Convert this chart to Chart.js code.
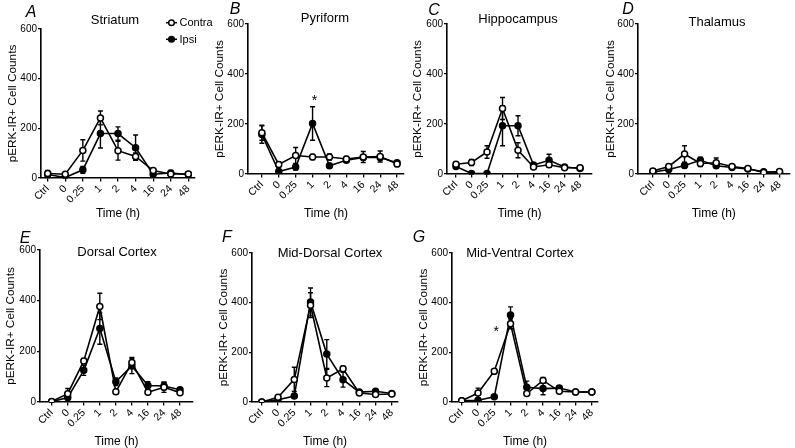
<!DOCTYPE html>
<html>
<head>
<meta charset="utf-8">
<script src="https://cdn.jsdelivr.net/npm/chart.js@4"></script>
<style>
  html, body { margin: 0; padding: 0; background: #fff; }
  #wrap { position: relative; width: 795px; height: 448px; overflow: hidden; }
  canvas { position: absolute; }
</style>
</head>
<body>
<div id="wrap"></div>
<script>
const timeLabels = ['Ctrl', '0', '0.25', '1', '2', '4', '16', '24', '48'];
const panelLetters = ['A', 'B', 'C', 'D', 'E', 'F', 'G'];
const regionNames = ['Striatum', 'Pyriform', 'Hippocampus', 'Thalamus', 'Dorsal Cortex', 'Mid-Dorsal Cortex', 'Mid-Ventral Cortex'];
const seriesNames = ['Contra', 'Ipsi'];

// mean pERK-IR+ counts, one row per region (A..G)
const contraMeans = [
  [18, 15, 111, 242, 110, 87, 30, 16, 16],
  [165, 38, 74, 68, 68, 60, 68, 70, 40],
  [39, 46, 88, 262, 95, 28, 37, 25, 25],
  [12, 30, 80, 42, 45, 30, 22, 6, 10],
  [2, 33, 162, 377, 40, 156, 38, 58, 37],
  [0, 19, 91, 390, 97, 134, 36, 30, 32],
  [5, 36, 124, 315, 34, 87, 43, 40, 40]
];
const contraSem = [
  [12, 8, 43, 28, 38, 14, 8, 6, 6],
  [30, 10, 32, 10, 12, 10, 22, 22, 10],
  [8, 12, 25, 44, 30, 6, 10, 6, 6],
  [8, 8, 33, 12, 19, 8, 6, 4, 4],
  [3, 20, 10, 52, 10, 20, 8, 20, 8],
  [2, 5, 49, 50, 35, 10, 6, 6, 5],
  [4, 20, 10, 20, 6, 12, 6, 5, 5]
];
const ipsiMeans = [
  [14, 2, 33, 179, 179, 122, 15, 20, 14],
  [158, 10, 28, 202, 33, 55, 66, 66, 45],
  [30, 2, 2, 193, 193, 36, 55, 28, 22],
  [7, 18, 34, 55, 33, 26, 20, 9, 7],
  [1, 18, 125, 290, 80, 142, 65, 63, 48],
  [0, 9, 24, 403, 193, 90, 40, 43, 34],
  [5, 7, 21, 350, 59, 54, 56, 40, 40]
];
const ipsiSem = [
  [12, 5, 14, 58, 27, 51, 8, 10, 8],
  [35, 8, 12, 67, 8, 8, 10, 10, 8],
  [6, 3, 3, 80, 40, 6, 24, 6, 6],
  [5, 6, 10, 12, 8, 6, 5, 4, 4],
  [2, 10, 20, 62, 15, 30, 15, 15, 8],
  [2, 4, 8, 56, 58, 30, 6, 6, 5],
  [4, 4, 5, 33, 25, 25, 8, 5, 5]
];
// significance marks: [region, time index, count level]
const asterisks = [[1, 3, 308], [6, 2, 297]];

// page geometry of each panel (axis x, plot top/bottom, axis end, x range)
const layout = [
  { ax: 41,  top: 29,  bottom: 178, right: 195, xmin: -0.38, xmax: 8.38, ytOff: 28, padR: 25, letter: [31, 13],  title: [115, 20] },
  { ax: 248, top: 24,  bottom: 174, right: 404, xmin: -0.82, xmax: 8.41, ytOff: 28, padR: 12, letter: [235, 10], title: [325, 18] },
  { ax: 447, top: 24,  bottom: 174, right: 592, xmin: -0.58, xmax: 8.77, ytOff: 29, padR: 12, letter: [434, 11], title: [518, 19] },
  { ax: 638, top: 24,  bottom: 174, right: 790, xmin: -0.94, xmax: 8.63, ytOff: 27, padR: 5,  letter: [628, 10], title: [717, 22] },
  { ax: 40,  top: 250, bottom: 402, right: 193, xmin: -0.73, xmax: 8.81, ytOff: 29, padR: 12, letter: [25, 239], title: [117, 252] },
  { ax: 252, top: 253, bottom: 402, right: 398, xmin: -0.6,  xmax: 8.38, ytOff: 28, padR: 12, letter: [227, 238], title: [330, 253] },
  { ax: 452, top: 253, bottom: 402, right: 598, xmin: -0.6,  xmax: 8.38, ytOff: 28, padR: 12, letter: [419, 238], title: [520, 253] }
];
const rowTop = [0, 225];
const rowBottom = [225, 455];

Chart.defaults.font.family = "'Liberation Sans', Arial, Helvetica, sans-serif";
Chart.defaults.color = '#000';

const errorBars = {
  id: 'errorBars',
  beforeDatasetsDraw(chart) {
    const ctx = chart.ctx, y = chart.scales.y, area = chart.chartArea;
    ctx.save();
    ctx.strokeStyle = '#000';
    ctx.lineWidth = 1.4;
    chart.data.datasets.forEach((ds, d) => {
      chart.getDatasetMeta(d).data.forEach((pt, i) => {
        const v = ds.data[i].y, e = ds.errors[i];
        const yTop = y.getPixelForValue(v + e);
        const yBot = Math.min(y.getPixelForValue(v - e), area.bottom);
        ctx.beginPath();
        ctx.moveTo(pt.x, yTop); ctx.lineTo(pt.x, yBot);
        ctx.moveTo(pt.x - 2.5, yTop); ctx.lineTo(pt.x + 2.5, yTop);
        ctx.moveTo(pt.x - 2.5, yBot); ctx.lineTo(pt.x + 2.5, yBot);
        ctx.stroke();
      });
    });
    ctx.restore();
  }
};

function decorations(p, cx, cy) {
  const L = layout[p];
  return {
    id: 'decor' + p,
    afterDraw(chart) {
      const ctx = chart.ctx;
      ctx.save();
      ctx.fillStyle = '#000';
      ctx.textBaseline = 'middle';
      ctx.textAlign = 'center';
      ctx.font = "italic 16px 'Liberation Sans', Arial, sans-serif";
      ctx.fillText(panelLetters[p], L.letter[0] - cx, L.letter[1] - cy);
      ctx.font = "13px 'Liberation Sans', Arial, sans-serif";
      ctx.fillText(regionNames[p], L.title[0] - cx, L.title[1] - cy);

      // significance asterisks
      ctx.font = "14px 'Liberation Sans', Arial, sans-serif";
      asterisks.filter(a => a[0] === p).forEach(a => {
        const x = chart.scales.x.getPixelForValue(a[1]) + 2;
        const y = chart.scales.y.getPixelForValue(a[2]) + 4;
        ctx.fillText('*', x, y);
      });

      // legend in first panel
      if (p === 0) {
        ctx.font = "11px 'Liberation Sans', Arial, sans-serif";
        ctx.textAlign = 'left';
        seriesNames.forEach((name, k) => {
          const ly = (k === 0 ? 22.7 : 39.3) - cy;
          ctx.strokeStyle = '#000';
          ctx.lineWidth = 1.5;
          ctx.beginPath();
          ctx.moveTo(166 - cx, ly); ctx.lineTo(177 - cx, ly);
          ctx.stroke();
          ctx.beginPath();
          ctx.arc(171.5 - cx, ly, 2.8, 0, Math.PI * 2);
          ctx.fillStyle = k === 0 ? '#fff' : '#000';
          ctx.fill();
          ctx.stroke();
          ctx.fillStyle = '#000';
          ctx.fillText(name, 179.5 - cx, ly + 0.5);
        });
      }
      ctx.restore();
    }
  };
}

const wrap = document.getElementById('wrap');

layout.forEach((L, p) => {
  const row = p < 4 ? 0 : 1;
  const cx = L.ax - 41, cy = rowTop[row];
  const cw = L.right + L.padR - cx, ch = rowBottom[row] - cy;
  const cv = document.createElement('canvas');
  cv.width = cw; cv.height = ch;
  cv.style.left = cx + 'px'; cv.style.top = cy + 'px';
  cv.style.width = cw + 'px'; cv.style.height = ch + 'px';
  wrap.appendChild(cv);

  const titleY = row === 0 ? 214 : 442;

  new Chart(cv, {
    type: 'line',
    data: {
      datasets: [
        {
          label: seriesNames[0],
          data: contraMeans[p].map((v, i) => ({ x: i, y: v })),
          errors: contraSem[p],
          borderColor: '#000', borderWidth: 1.6,
          pointRadius: 3, pointBorderWidth: 1.5,
          pointBackgroundColor: '#fff', pointBorderColor: '#000',
          tension: 0
        },
        {
          label: seriesNames[1],
          data: ipsiMeans[p].map((v, i) => ({ x: i, y: v })),
          errors: ipsiSem[p],
          borderColor: '#000', borderWidth: 1.6,
          pointRadius: 3, pointBorderWidth: 1.5,
          pointBackgroundColor: '#000', pointBorderColor: '#000',
          tension: 0
        }
      ]
    },
    options: {
      responsive: false,
      animation: false,
      devicePixelRatio: 1,
      layout: { padding: { left: 0, top: L.top - cy, right: L.padR, bottom: 0 } },
      plugins: { legend: { display: false }, tooltip: { enabled: false } },
      scales: {
        x: {
          type: 'linear',
          bounds: 'data',
          min: L.xmin,
          max: L.xmax,
          afterBuildTicks: s => { s.ticks = timeLabels.map((t, i) => ({ value: i })); },
          afterFit: s => { s.height = ch - (L.bottom - cy); },
          ticks: {
            autoSkip: false, minRotation: 45, maxRotation: 45, padding: 1,
            font: { size: 10.5 },
            callback: v => timeLabels[v]
          },
          grid: { display: true, drawOnChartArea: false, drawTicks: true, tickLength: 3.5, color: '#000', lineWidth: 1.3 },
          border: { display: true, color: '#000', width: 1.6 },
          title: {
            display: true, text: 'Time (h)', font: { size: 12 },
            padding: { top: 0, bottom: ch - 7.2 - (titleY - cy) }
          }
        },
        y: {
          min: 0,
          max: 600,
          afterFit: s => { s.width = 41; },
          ticks: { stepSize: 200, font: { size: 10 }, padding: 1 },
          grid: { display: true, drawOnChartArea: false, drawTicks: true, tickLength: 3, color: '#000', lineWidth: 1.3 },
          border: { display: true, color: '#000', width: 1.6 },
          title: {
            display: true, text: 'pERK-IR+ Cell Counts', font: { size: 11.8 },
            padding: { top: 41 - L.ytOff - 7.1, bottom: 0 }
          }
        }
      }
    },
    plugins: [errorBars, decorations(p, cx, cy)]
  });
});
</script>
</body>
</html>
